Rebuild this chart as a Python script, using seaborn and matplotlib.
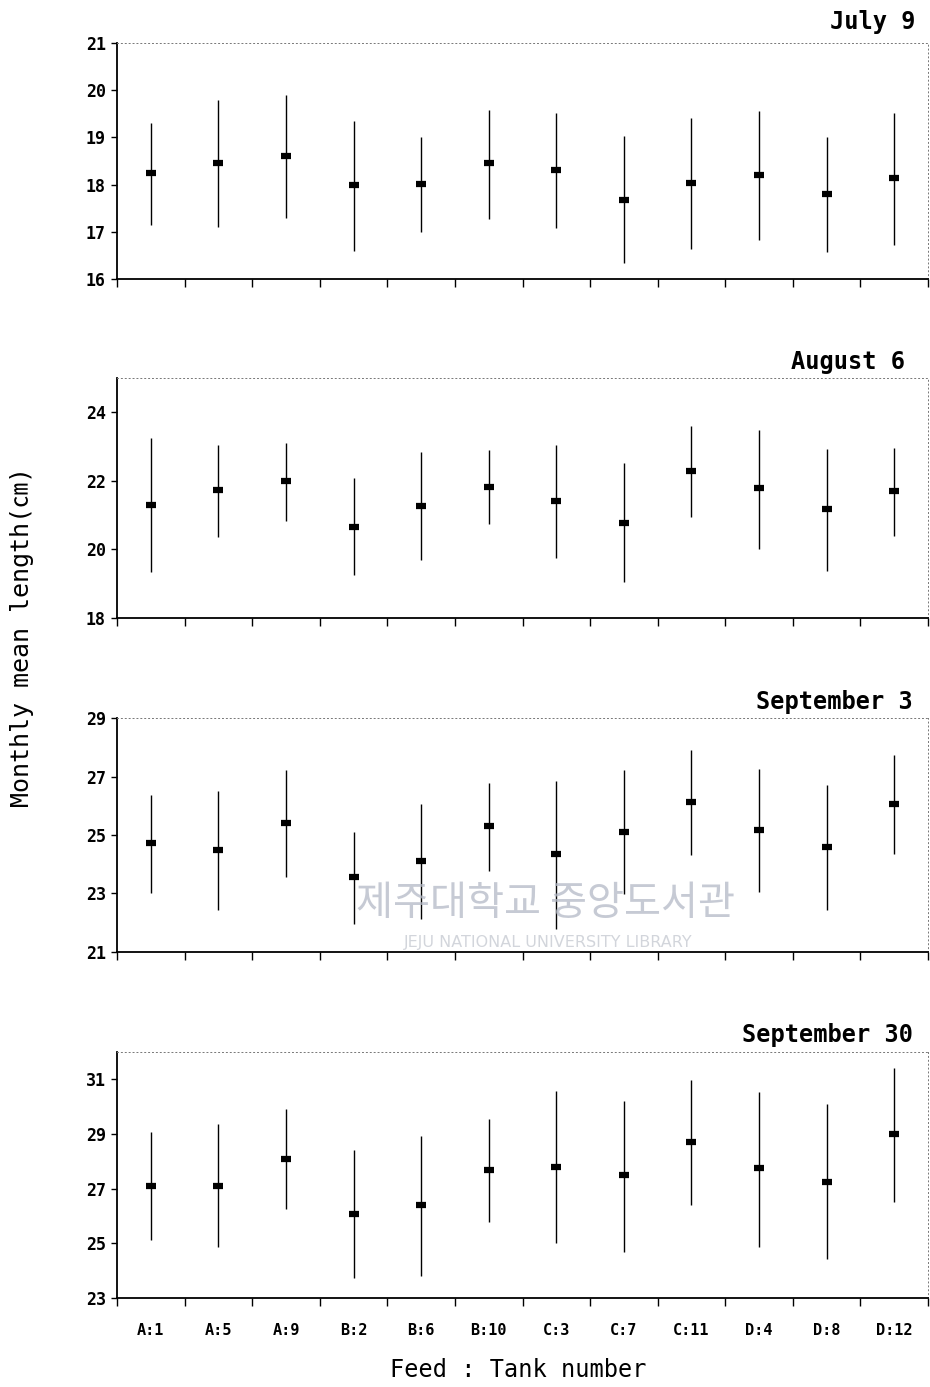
import numpy as np
import pandas as pd
import seaborn as sns
import matplotlib.pyplot as plt

tanks = ["A:1", "A:5", "A:9", "B:2", "B:6", "B:10", "C:3", "C:7", "C:11", "D:4", "D:8", "D:12"]

# July 9
jul9_mean = [18.25, 18.46, 18.61, 17.99, 18.01, 18.45, 18.31, 17.68, 18.04, 18.21, 17.81, 18.15]
jul9_low = [17.15, 17.10, 17.30, 16.59, 17.00, 17.28, 17.07, 16.34, 16.64, 16.82, 16.57, 16.73]
jul9_high = [19.31, 19.80, 19.89, 19.35, 19.01, 19.59, 19.52, 19.02, 19.42, 19.55, 19.01, 19.52]

# August 6
aug6_mean = [21.30, 21.73, 22.01, 20.66, 21.27, 21.83, 21.42, 20.78, 22.28, 21.78, 21.17, 21.71]
aug6_low = [19.34, 20.37, 20.83, 19.24, 19.69, 20.75, 19.76, 19.04, 20.95, 20.02, 19.37, 20.39]
aug6_high = [23.24, 23.04, 23.10, 22.07, 22.85, 22.89, 23.06, 22.52, 23.59, 23.49, 22.93, 22.96]

# September 3
sep3_mean = [24.71, 24.50, 25.42, 23.55, 24.12, 25.30, 24.34, 25.09, 26.12, 25.17, 24.60, 26.05]
sep3_low = [23.00, 22.45, 23.57, 21.97, 22.13, 23.77, 21.80, 22.98, 24.31, 23.06, 22.45, 24.35]
sep3_high = [26.37, 26.52, 27.23, 25.11, 26.06, 26.77, 26.85, 27.21, 27.91, 27.25, 26.70, 27.73]

# September 30
sep30_mean = [27.10, 27.11, 28.09, 26.09, 26.41, 27.68, 27.81, 27.50, 28.70, 27.75, 27.25, 28.99]
sep30_low = [25.12, 24.88, 26.27, 23.73, 23.79, 25.78, 25.02, 24.70, 26.42, 24.88, 24.42, 26.52]
sep30_high = [29.06, 29.36, 29.91, 28.42, 28.94, 29.55, 30.58, 30.21, 30.96, 30.55, 30.09, 31.42]

titles = ["July 9", "August 6", "September 3", "September 30"]
ylims = [(16, 21), (18, 25), (21, 29), (23, 32)]
yticks = [[16, 17, 18, 19, 20, 21], [18, 20, 22, 24], [21, 23, 25, 27, 29], [23, 25, 27, 29, 31]]

sns.set_style("ticks")
plt.rcParams["font.family"] = ["DejaVu Sans Mono", "Noto Sans CJK KR"]
plt.rcParams["text.color"] = "black"
plt.rcParams["xtick.color"] = "black"
plt.rcParams["ytick.color"] = "black"
plt.rcParams["axes.labelcolor"] = "black"

W, H = 930, 1387
fig = plt.figure(figsize=(W / 100, H / 100), dpi=100)

# axes boxes in pixels: (top, bottom)
boxes = [(43, 279), (378, 618), (718, 952), (1052, 1298)]
title_pos = [(915, 22), (905, 362), (913, 702), (913, 1035)]
left_px, right_px = 117, 928

series = [
    (jul9_mean, jul9_low, jul9_high),
    (aug6_mean, aug6_low, aug6_high),
    (sep3_mean, sep3_low, sep3_high),
    (sep30_mean, sep30_low, sep30_high),
]

for i, (mean, low, high) in enumerate(series):
    top, bot = boxes[i]
    ax = fig.add_axes([left_px / W, 1 - bot / H, (right_px - left_px) / W, (bot - top) / H])
    df = pd.DataFrame({"tank": tanks, "mean": mean, "low": low, "high": high})

    ax.vlines(np.arange(len(tanks)), df["low"], df["high"], color="black", lw=1.0, zorder=2)
    sns.pointplot(data=df, x="tank", y="mean", errorbar=None, linestyle="none",
                  marker="_", markersize=7, markeredgewidth=4.5, color="black", ax=ax, zorder=3)

    ax.set_xlim(-0.5, len(tanks) - 0.5)
    ax.set_ylim(*ylims[i])
    ax.set_yticks(yticks[i])
    ax.set_xlabel("")
    ax.set_ylabel("")

    # ticks on the category boundaries, labels under the centres
    ax.set_xticks(np.arange(-0.5, len(tanks), 1))
    ax.set_xticklabels([])
    ax.set_xticks(np.arange(len(tanks)), minor=True)
    if i == 3:
        ax.set_xticklabels(tanks, minor=True, fontsize=11, fontweight="bold")
    ax.tick_params(axis="x", which="major", bottom=True, direction="out", length=6, width=1)
    ax.tick_params(axis="x", which="minor", bottom=True, length=0, pad=18)
    ax.tick_params(axis="y", left=True, direction="out", length=4, width=1, pad=4)
    for lab in ax.get_yticklabels():
        lab.set_fontsize(12)
        lab.set_fontweight("bold")

    for s in ["left", "bottom"]:
        ax.spines[s].set_visible(True)
        ax.spines[s].set_color("black")
        ax.spines[s].set_linewidth(1.3)
    for s in ["top", "right"]:
        ax.spines[s].set_visible(True)
        ax.spines[s].set_color("#777777")
        ax.spines[s].set_linewidth(0.7)
        ax.spines[s].set_linestyle((0, (1, 3)))

    tx, ty = title_pos[i]
    fig.text(tx / W, 1 - ty / H, titles[i], ha="right", va="center",
             fontsize=17, fontweight="bold")

fig.text(22 / W, 1 - 637 / H, "Monthly mean length(㎝)", rotation=90,
         ha="center", va="center", fontsize=18)
fig.text(518 / W, 1 - 1370 / H, "Feed : Tank number", ha="center", va="center", fontsize=17)

# library watermark
fig.text(545 / W, 1 - 904 / H, "제주대학교 중앙도서관", ha="center", va="center",
         fontsize=29, color="#b4b9c6", alpha=0.75, family="Noto Sans CJK KR", zorder=0)
fig.text(548 / W, 1 - 942 / H, "JEJU NATIONAL UNIVERSITY LIBRARY", ha="center", va="center",
         fontsize=11.5, color="#c4c8d0", alpha=0.75, family="DejaVu Sans", zorder=0)

fig.savefig("out.png", dpi=100, facecolor="white")
